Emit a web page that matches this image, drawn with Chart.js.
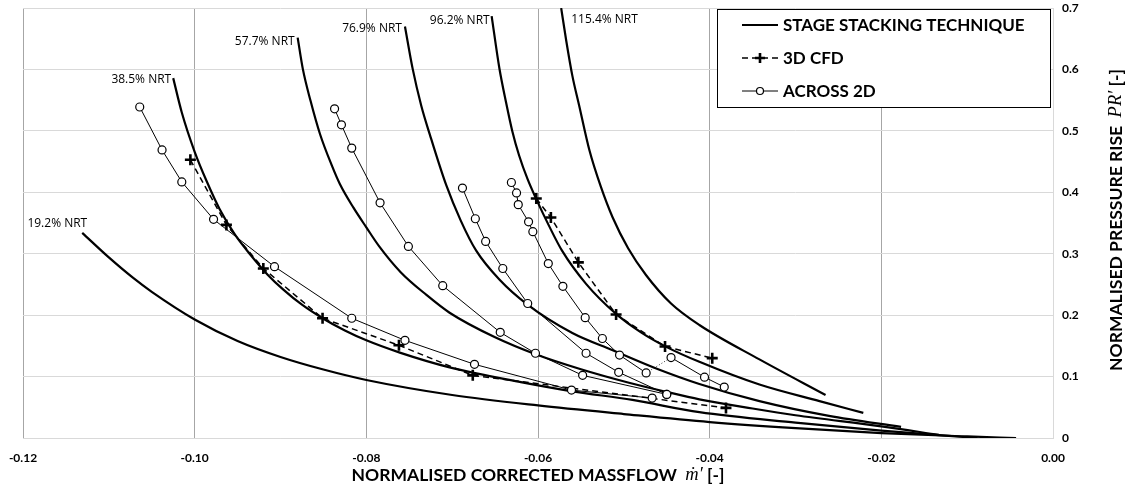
<!DOCTYPE html>
<html><head><meta charset="utf-8">
<script src="https://cdn.jsdelivr.net/npm/chart.js@4.4.1/dist/chart.umd.min.js"></script>
<style>html,body{margin:0;padding:0;background:#fff}</style>
</head><body>
<canvas id="c" width="1134" height="492" style="display:block"></canvas>
<script>
// ---------------- DATA ----------------
const xTicks = [-0.12, -0.10, -0.08, -0.06, -0.04, -0.02, 0.00];
const yTicks = [0, 0.1, 0.2, 0.3, 0.4, 0.5, 0.6, 0.7];
const seriesNames = ['STAGE STACKING TECHNIQUE', '3D CFD', 'ACROSS 2D'];
const speedLabels = ['19.2% NRT', '38.5% NRT', '57.7% NRT', '76.9% NRT', '96.2% NRT', '115.4% NRT'];

// Stage stacking technique speed lines
const ss192x = [-0.1131, -0.110, -0.1072, -0.105, -0.100, -0.095, -0.090, -0.085, -0.080, -0.070, -0.060, -0.050, -0.040, -0.030, -0.020, -0.010, -0.0043];
const ss192y = [0.334, 0.294, 0.261, 0.238, 0.193, 0.158, 0.132, 0.1115, 0.0945, 0.070, 0.053, 0.039, 0.026, 0.016, 0.008, 0.0025, 0.000];
const ss385x = [-0.1025, -0.1015, -0.1000, -0.0986, -0.0971, -0.0953, -0.0936, -0.0915, -0.0897, -0.0875, -0.0851, -0.0825, -0.0800, -0.0761, -0.0703, -0.0620, -0.0560, -0.0490, -0.0412, -0.0300, -0.0200, -0.0088];
const ss385y = [0.586, 0.530, 0.466, 0.418, 0.373, 0.331, 0.300, 0.266, 0.242, 0.217, 0.195, 0.175, 0.159, 0.139, 0.115, 0.091, 0.076, 0.062, 0.042, 0.025, 0.012, 0.000];
const ss577x = [-0.0880, -0.0874, -0.0865, -0.0854, -0.0840, -0.0831, -0.0815, -0.0800, -0.0785, -0.0760, -0.0730, -0.0703, -0.0650, -0.0602, -0.0550, -0.0494, -0.0450, -0.0412, -0.0350, -0.0300, -0.0200, -0.0133];
const ss577y = [0.652, 0.601, 0.549, 0.495, 0.443, 0.414, 0.375, 0.343, 0.312, 0.270, 0.233, 0.204, 0.164, 0.136, 0.112, 0.090, 0.075, 0.063, 0.048, 0.037, 0.019, 0.005];
const ss769x = [-0.0755, -0.0746, -0.0736, -0.0726, -0.0707, -0.0690, -0.0672, -0.0645, -0.0613, -0.0560, -0.0513, -0.0460, -0.0412, -0.0342, -0.0261, -0.0177];
const ss769y = [0.670, 0.601, 0.541, 0.494, 0.412, 0.354, 0.305, 0.258, 0.218, 0.171, 0.143, 0.112, 0.088, 0.060, 0.036, 0.018];
const ss962x = [-0.0654, -0.0645, -0.0637, -0.0630, -0.0622, -0.0612, -0.0602, -0.0587, -0.0572, -0.0544, -0.0509, -0.0480, -0.0450, -0.0412, -0.0342, -0.0272, -0.0221];
const ss962y = [0.687, 0.602, 0.545, 0.500, 0.460, 0.421, 0.389, 0.345, 0.305, 0.251, 0.202, 0.172, 0.148, 0.124, 0.087, 0.060, 0.041];
const ss1154x = [-0.0573, -0.0567, -0.0560, -0.0552, -0.0540, -0.0527, -0.0513, -0.0495, -0.0474, -0.0445, -0.0412, -0.0342, -0.0265];
const ss1154y = [0.700, 0.646, 0.590, 0.541, 0.468, 0.410, 0.359, 0.309, 0.265, 0.219, 0.184, 0.128, 0.070];

// 3D CFD
const cfd385x = [-0.1005, -0.0963, -0.0920, -0.0851, -0.0762, -0.0676, -0.0381];
const cfd385y = [0.453, 0.347, 0.276, 0.195, 0.151, 0.102, 0.049];
const cfd962x = [-0.0602, -0.0585, -0.0553, -0.0509, -0.0452, -0.0397];
const cfd962y = [0.390, 0.359, 0.286, 0.201, 0.149, 0.130];

// ACROSS 2D
const acr385x = [-0.1064, -0.1038, -0.1015, -0.0978, -0.0907, -0.0817, -0.0755, -0.0674, -0.0561, -0.0467];
const acr385y = [0.539, 0.469, 0.417, 0.356, 0.279, 0.195, 0.159, 0.120, 0.078, 0.065];
const acr577x = [-0.0837, -0.0829, -0.0817, -0.0784, -0.0751, -0.0711, -0.0644, -0.0603, -0.0548, -0.0450];
const acr577y = [0.536, 0.510, 0.472, 0.383, 0.312, 0.248, 0.172, 0.138, 0.102, 0.071];
const acr769x = [-0.0688, -0.0673, -0.0661, -0.0641, -0.0612, -0.0544, -0.0506, -0.0450];
const acr769y = [0.407, 0.357, 0.320, 0.276, 0.219, 0.138, 0.107, 0.071];
const acr962x = [-0.0631, -0.0625, -0.0623, -0.0611, -0.0606, -0.0588, -0.0571, -0.0545, -0.0525, -0.0505, -0.0474];
const acr962y = [0.416, 0.399, 0.380, 0.352, 0.336, 0.284, 0.247, 0.196, 0.162, 0.135, 0.106];
const acr1154x = [-0.0445, -0.0406, -0.0383];
const acr1154y = [0.131, 0.099, 0.083];

// ---------------- BUILD ----------------
const pts = (xs, ys) => xs.map((v, i) => ({x: v, y: ys[i]}));
const ssX = [ss192x, ss385x, ss577x, ss769x, ss962x, ss1154x];
const ssY = [ss192y, ss385y, ss577y, ss769y, ss962y, ss1154y];
const datasets = [];
ssX.forEach((xs, i) => datasets.push({
  label: speedLabels[i], data: pts(xs, ssY[i]), showLine: true,
  borderColor: '#000', borderWidth: 2.2, pointRadius: 0,
  cubicInterpolationMode: 'monotone', order: 3
}));
[[acr385x, acr385y], [acr577x, acr577y], [acr769x, acr769y], [acr962x, acr962y], [acr1154x, acr1154y]].forEach(([xs, ys]) => datasets.push({
  label: seriesNames[2], data: pts(xs, ys), showLine: true, borderColor: '#000', borderWidth: 1,
  pointRadius: 4, pointBackgroundColor: '#fff', pointBorderColor: '#000', pointBorderWidth: 1.2,
  tension: 0, order: 1
}));
datasets.push({
  label: 'connector', data: [{x: acr962x[acr962x.length - 1], y: acr962y[acr962y.length - 1]}, {x: acr1154x[0], y: acr1154y[0]}],
  showLine: true, borderColor: '#000', borderWidth: 0.8, borderDash: [1, 2], pointRadius: 0, order: 2
});
[[cfd385x, cfd385y], [cfd962x, cfd962y]].forEach(([xs, ys]) => datasets.push({
  label: seriesNames[1], data: pts(xs, ys), showLine: true, borderColor: '#000', borderWidth: 1.5,
  borderDash: [6, 4], pointStyle: 'cross', pointRadius: 5.5, pointBorderWidth: 2.6, pointBorderColor: '#000',
  tension: 0, order: 2
}));

const FONT = 'Lato';
const overlay = {
  id: 'overlay',
  afterDraw(chart) {
    const {ctx, scales: {x, y}, chartArea: a} = chart;
    ctx.save();
    ctx.fillStyle = '#000';
    ctx.font = '12px "Open Sans"';
    ctx.textBaseline = 'middle';
    const offs = [[5, -9, 'right'], [-2, 1, 'right'], [-3, 4, 'right'], [-3, 2, 'right'], [-2, 4, 'right'], [10, 11, 'left']];
    speedLabels.forEach((t, i) => {
      const px = x.getPixelForValue(ssX[i][0]), py = y.getPixelForValue(ssY[i][0]);
      ctx.textAlign = offs[i][2];
      ctx.fillText(t, px + offs[i][0], py + offs[i][1]);
    });
    // legend
    const lx = 717.5, ly = 9.5, lw = 333, lh = 98;
    ctx.fillStyle = '#fff'; ctx.fillRect(lx, ly, lw, lh);
    ctx.strokeStyle = '#000'; ctx.lineWidth = 1; ctx.strokeRect(lx, ly, lw, lh);
    const rows = [25, 58, 91];
    const sx0 = 742, sx1 = 778, sxm = 760;
    ctx.fillStyle = '#000';
    ctx.font = 'bold 17px ' + FONT; ctx.textAlign = 'left'; ctx.textBaseline = 'middle';
    seriesNames.forEach((t, i) => ctx.fillText(t, 783, rows[i] + 1));
    ctx.lineWidth = 2.2; ctx.beginPath(); ctx.moveTo(sx0, rows[0]); ctx.lineTo(sx1, rows[0]); ctx.stroke();
    ctx.lineWidth = 1.5; ctx.setLineDash([6, 4]); ctx.beginPath(); ctx.moveTo(sx0, rows[1]); ctx.lineTo(sx1, rows[1]); ctx.stroke();
    ctx.setLineDash([]); ctx.lineWidth = 2.6; ctx.beginPath();
    ctx.moveTo(sxm - 5, rows[1]); ctx.lineTo(sxm + 5, rows[1]); ctx.moveTo(sxm, rows[1] - 5); ctx.lineTo(sxm, rows[1] + 5); ctx.stroke();
    ctx.lineWidth = 1; ctx.beginPath(); ctx.moveTo(sx0, rows[2]); ctx.lineTo(sx1, rows[2]); ctx.stroke();
    ctx.fillStyle = '#fff'; ctx.lineWidth = 1.2; ctx.beginPath(); ctx.arc(sxm, rows[2], 3.5, 0, Math.PI * 2); ctx.fill(); ctx.stroke();
    // axis titles
    const drawParts = (parts, cx, cy, rot) => {
      ctx.save(); ctx.translate(cx, cy); ctx.rotate(rot);
      let w = 0; parts.forEach(p => { ctx.font = p[1]; w += ctx.measureText(p[0]).width; });
      let cur = -w / 2; ctx.fillStyle = '#000'; ctx.textAlign = 'left'; ctx.textBaseline = 'middle';
      parts.forEach(p => { ctx.font = p[1]; ctx.fillText(p[0], cur, 0); cur += ctx.measureText(p[0]).width; });
      ctx.restore();
    };
    const B = 'bold 17.5px ' + FONT, I = 'italic 18.5px "Liberation Serif", "DejaVu Serif", serif';
    drawParts([['NORMALISED CORRECTED MASSFLOW  ', B], ['\u1E41\u2032', I], [' [-]', B]], (a.left + a.right) / 2, 475, 0);
    drawParts([['NORMALISED PRESSURE RISE  ', B], ['PR\u2032', I], [' [-]', B]], 1116, 220, -Math.PI / 2);
    ctx.restore();
  }
};

new Chart(document.getElementById('c'), {
  type: 'scatter',
  data: {datasets},
  options: {
    responsive: false, animation: false, devicePixelRatio: 1,
    layout: {padding: {left: 23, top: 7, right: 0, bottom: 0}},
    plugins: {legend: {display: false}, tooltip: {enabled: false}},
    scales: {
      x: {
        type: 'linear', min: xTicks[0], max: xTicks[xTicks.length - 1],
        afterFit: s => { s.height = 54; s.paddingLeft = 0; s.paddingRight = 0; },
        afterBuildTicks: s => { s.ticks = xTicks.map(v => ({value: v})); },
        grid: {color: '#a6a6a6', lineWidth: 1, drawTicks: false},
        border: {color: '#d9d9d9'},
        ticks: {padding: 13, color: '#000', font: {family: FONT, weight: 'bold', size: 12},
          callback: v => Math.abs(v) < 1e-9 ? '0.00' : v.toFixed(2)}
      },
      y: {
        type: 'linear', position: 'right', min: yTicks[0], max: yTicks[yTicks.length - 1],
        afterFit: s => { s.width = 81; s.paddingTop = 0; s.paddingBottom = 0; },
        afterBuildTicks: s => { s.ticks = yTicks.map(v => ({value: v})); },
        grid: {color: '#d9d9d9', lineWidth: 1, drawTicks: false},
        border: {color: '#d9d9d9'},
        ticks: {padding: 9, color: '#000', font: {family: FONT, weight: 'bold', size: 12},
          callback: v => Math.abs(v) < 1e-9 ? '0' : v.toFixed(1)}
      }
    }
  },
  plugins: [overlay]
});
</script>
</body></html>
